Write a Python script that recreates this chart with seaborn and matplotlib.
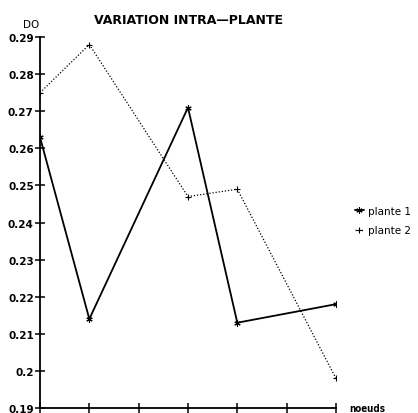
import matplotlib
matplotlib.use("Agg")
import matplotlib.pyplot as plt
import seaborn as sns
import pandas as pd
from matplotlib.ticker import FuncFormatter

noeuds = [0, 1, 3, 4, 6]
plante1 = [0.263, 0.214, 0.271, 0.213, 0.218]
plante2 = [0.275, 0.288, 0.247, 0.249, 0.198]
yticks = [0.19, 0.20, 0.21, 0.22, 0.23, 0.24, 0.25, 0.26, 0.27, 0.28, 0.29]
xticks = [0, 1, 2, 3, 4, 5, 6]

df = pd.DataFrame({
    "noeuds": noeuds * 2,
    "DO": plante1 + plante2,
    "plante": ["plante 1"] * len(noeuds) + ["plante 2"] * len(noeuds),
})

sns.set_style("ticks")
plt.rcParams["font.family"] = ["DejaVu Sans"]
plt.rcParams["text.color"] = "black"

fig = plt.figure(figsize=(4.18, 4.14), dpi=100)
ax = fig.add_axes([0.0957, 0.012, 0.708, 0.896])

sns.lineplot(data=df[df.plante == "plante 1"], x="noeuds", y="DO", ax=ax,
             color="black", linewidth=1.3, marker=(6, 2, 0), markersize=4.5,
             markeredgewidth=0.8, markeredgecolor="black", label="plante 1")
sns.lineplot(data=df[df.plante == "plante 2"], x="noeuds", y="DO", ax=ax,
             color="black", linewidth=0.9, linestyle=(0, (1, 1.5)), marker="+",
             markersize=4, markeredgewidth=0.8, markeredgecolor="black",
             label="plante 2")

ax.set_xlim(0, 6)
ax.set_ylim(0.19, 0.29)
ax.set_xticks(xticks)
ax.set_xticklabels([])
ax.set_yticks(yticks)
ax.yaxis.set_major_formatter(FuncFormatter(lambda v, p: f"{v:g}"))
for s in ["top", "right"]:
    ax.spines[s].set_visible(False)
for s in ["left", "bottom"]:
    ax.spines[s].set_linewidth(1.3)
    ax.spines[s].set_color("black")
ax.tick_params(axis="both", direction="inout", length=7, width=1.1,
               colors="black", labelcolor="black")
ax.tick_params(axis="y", labelsize=7.5, pad=1)
for lab in ax.get_yticklabels():
    lab.set_fontweight("bold")
ax.set_xlabel("")
ax.set_ylabel("")

fig.text(0.075, 0.928, "DO", fontsize=7.5, ha="center", va="bottom", color="black")
fig.text(0.45, 0.935, "VARIATION INTRA\u2014PLANTE", fontsize=9, fontweight="bold",
         ha="center", va="bottom", color="black")
fig.text(0.835, 0.012, "noeuds", fontsize=7, fontweight="bold", ha="left",
         va="center", fontstretch="condensed", color="black")

leg = ax.legend(loc="center left", bbox_to_anchor=(1.065, 0.505), frameon=False,
                fontsize=7.5, handlelength=0.8, handletextpad=0.4, labelspacing=0.9,
                borderaxespad=0, borderpad=0)
for t in leg.get_texts():
    t.set_color("black")

fig.savefig("out.png", dpi=100)
